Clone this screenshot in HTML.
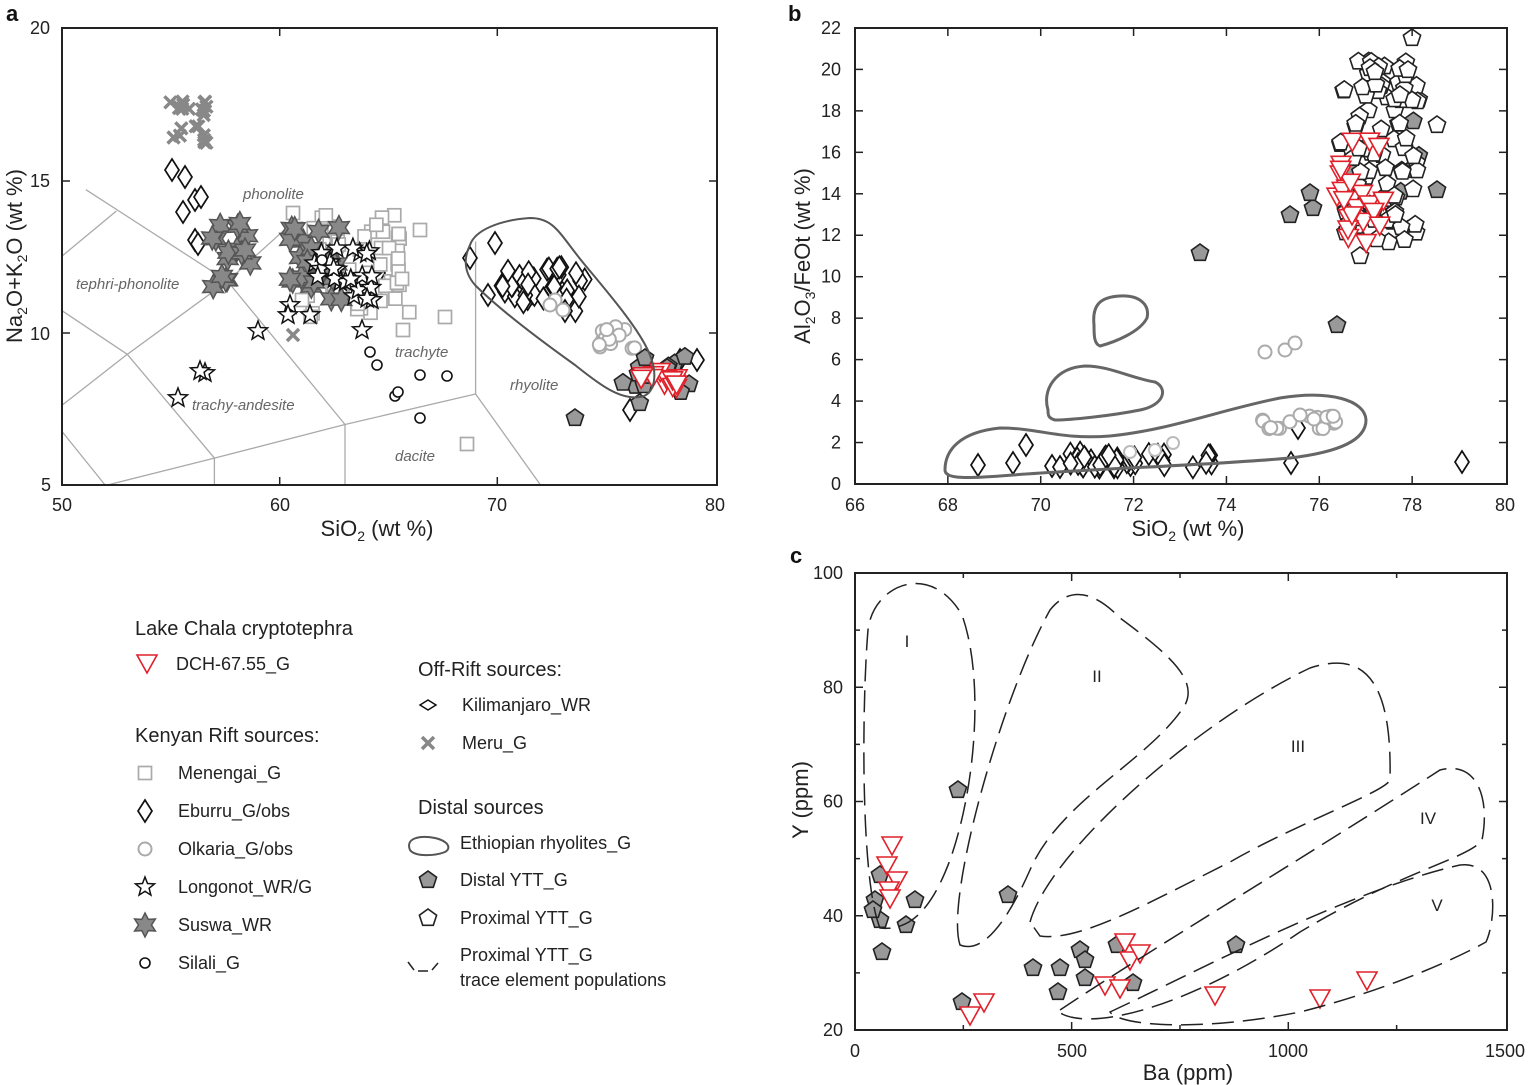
<!DOCTYPE html>
<html><head><meta charset="utf-8"><style>
html,body{margin:0;padding:0;background:#fff;}
svg{display:block;font-family:"Liberation Sans",Arial,sans-serif;}
</style></head><body>
<svg id="s" width="1529" height="1085" viewBox="0 0 1529 1085" xmlns="http://www.w3.org/2000/svg">
<rect width="1529" height="1085" fill="#fff"/>
<g id="tas" stroke="#aaa" stroke-width="1.3" fill="none"></g>
<g id="pts"></g>
<rect x="62" y="28" width="655" height="457" fill="none" stroke="#222" stroke-width="2"/>
<g stroke="#222" stroke-width="1.5">
<line x1="279.7" y1="485" x2="279.7" y2="477"/><line x1="497.3" y1="485" x2="497.3" y2="477"/>
<line x1="279.7" y1="28" x2="279.7" y2="36"/><line x1="497.3" y1="28" x2="497.3" y2="36"/>
<line x1="62" y1="181" x2="70" y2="181"/><line x1="62" y1="333" x2="70" y2="333"/>
<line x1="717" y1="181" x2="709" y2="181"/><line x1="717" y1="333" x2="709" y2="333"/>
</g>
<g font-size="18" fill="#222" text-anchor="middle">
<text x="62" y="511">50</text><text x="280" y="511">60</text><text x="497" y="511">70</text><text x="715" y="511">80</text>
<text x="40" y="34">20</text><text x="40" y="187">15</text><text x="40" y="340">10</text><text x="46" y="491">5</text>
</g>
<text x="377" y="536" font-size="22" text-anchor="middle" fill="#222">SiO<tspan font-size="14" dy="5">2</tspan><tspan dy="-5"> (wt %)</tspan></text>
<text transform="translate(22,256) rotate(-90)" font-size="22" text-anchor="middle" fill="#222">Na<tspan font-size="14" dy="5">2</tspan><tspan dy="-5">O+K</tspan><tspan font-size="14" dy="5">2</tspan><tspan dy="-5">O (wt %)</tspan></text>
<g font-size="15" font-style="italic" fill="#666">
<text x="243" y="199">phonolite</text><text x="76" y="289">tephri-phonolite</text>
<text x="395" y="357">trachyte</text><text x="192" y="410">trachy-andesite</text>
<text x="510" y="390">rhyolite</text><text x="395" y="461">dacite</text>
</g>
<path d="M470,245 C475,230 500,220 530,218 C555,218 560,235 585,265 C610,295 640,330 650,355 C658,375 655,395 640,397 C620,400 600,385 575,365 C540,340 500,310 475,285 C462,270 465,255 470,245 Z" fill="none" stroke="#555" stroke-width="2"/>

<rect x="855" y="28" width="652" height="456" fill="none" stroke="#222" stroke-width="2"/>
<g id="tb" stroke="#222" stroke-width="1.5"></g>
<path d="M945,470 C945,450 960,432 1000,428 C1040,428 1060,440 1110,436 C1170,430 1220,410 1280,398 C1330,390 1365,400 1366,420 C1366,440 1340,452 1290,458 C1200,466 1100,468 1000,476 C960,479 945,478 945,470 Z" fill="none" stroke="#666" stroke-width="3"/>
<path d="M1048,410 C1042,390 1055,368 1085,366 C1110,366 1130,378 1155,382 C1168,388 1165,405 1140,410 C1110,416 1070,420 1055,420 C1048,418 1048,415 1048,410 Z" fill="none" stroke="#666" stroke-width="3"/>
<path d="M1094,325 C1092,305 1100,297 1120,296 C1140,295 1150,305 1147,318 C1140,332 1115,342 1100,346 C1094,344 1094,335 1094,325 Z" fill="none" stroke="#666" stroke-width="3"/>
<g id="tbl" font-size="18" fill="#222"></g>
<text x="1188" y="536" font-size="22" text-anchor="middle" fill="#222">SiO<tspan font-size="14" dy="5">2</tspan><tspan dy="-5"> (wt %)</tspan></text>
<text transform="translate(810,256) rotate(-90)" font-size="22" text-anchor="middle" fill="#222">Al<tspan font-size="14" dy="5">2</tspan><tspan dy="-5">O</tspan><tspan font-size="14" dy="5">3</tspan><tspan dy="-5">/FeOt (wt %)</tspan></text>

<rect x="855" y="573" width="652" height="457" fill="none" stroke="#222" stroke-width="2"/>
<g id="tc" stroke="#222" stroke-width="1.5"></g>
<g fill="none" stroke="#222" stroke-width="1.5" stroke-dasharray="22,9">
<path d="M880,928 C860,880 862,700 868,630 C873,585 930,560 962,615 C985,680 975,790 950,860 C935,900 915,932 880,928 Z"/>
<path d="M960,945 C945,900 1000,700 1050,610 C1070,585 1095,592 1120,618 C1170,655 1198,680 1185,705 C1150,760 1060,800 1030,870 C1010,915 985,955 960,945 Z"/>
<path d="M1030,922 C1050,850 1200,720 1310,668 C1370,648 1392,690 1390,780 C1385,792 1300,822 1230,862 C1150,902 1080,942 1040,936 Z"/>
<path d="M1060,1010 C1150,950 1300,860 1440,770 C1478,760 1490,800 1482,840 C1470,858 1400,872 1300,932 C1200,1000 1100,1032 1062,1014 Z"/>
<path d="M1110,1012 C1200,970 1350,890 1460,865 C1500,860 1496,920 1486,942 C1450,962 1380,992 1300,1012 C1200,1032 1120,1026 1110,1012 Z"/>
</g>
<g font-size="17" fill="#222" text-anchor="middle">
<text x="907" y="647">I</text><text x="1097" y="682">II</text><text x="1298" y="752">III</text><text x="1428" y="824">IV</text><text x="1437" y="911">V</text>
</g>
<text x="1188" y="1080" font-size="22" text-anchor="middle" fill="#222">Ba (ppm)</text>
<text transform="translate(808,800) rotate(-90)" font-size="22" text-anchor="middle" fill="#222">Y (ppm)</text>

<g font-size="22" font-weight="bold" fill="#111">
<text x="6" y="21">a</text><text x="788" y="21">b</text><text x="790" y="563">c</text>
</g>

<g fill="#222">
<text x="135" y="635" font-size="20">Lake Chala cryptotephra</text>
<text x="176" y="670" font-size="18">DCH-67.55_G</text>
<text x="135" y="742" font-size="20">Kenyan Rift sources:</text>
<g font-size="18">
<text x="178" y="779">Menengai_G</text><text x="178" y="817">Eburru_G/obs</text>
<text x="178" y="855">Olkaria_G/obs</text><text x="178" y="893">Longonot_WR/G</text>
<text x="178" y="931">Suswa_WR</text><text x="178" y="969">Silali_G</text>
<text x="462" y="711">Kilimanjaro_WR</text><text x="462" y="749">Meru_G</text>
<text x="460" y="849">Ethiopian rhyolites_G</text><text x="460" y="886">Distal YTT_G</text>
<text x="460" y="924">Proximal YTT_G</text><text x="460" y="961">Proximal YTT_G</text>
<text x="460" y="986">trace element populations</text>
</g>
<text x="418" y="676" font-size="20">Off-Rift sources:</text>
<text x="418" y="814" font-size="20">Distal sources</text>
<path d="M410,850 C405,838 420,835 435,838 C448,841 452,848 445,852 C435,856 415,857 410,850 Z" fill="none" stroke="#555" stroke-width="2"/>
<path d="M408,962 l6,8 M418,971 l10,0 M432,970 l6,-7" stroke="#222" stroke-width="1.5" fill="none"/>
</g>
<g id="leg"></g>
</svg>
<script>
(function(){
var NS="http://www.w3.org/2000/svg";
var pts=document.getElementById('pts');
var seed=12345;function rnd(){seed=(seed*16807)%2147483647;return (seed-1)/2147483646;}
function el(tag,attrs,par){var e=document.createElementNS(NS,tag);for(var k in attrs)e.setAttribute(k,attrs[k]);(par||pts).appendChild(e);return e;}
function poly(pp){return pp.map(function(p){return p[0].toFixed(1)+','+p[1].toFixed(1);}).join(' ');}
function diamond(x,y,par){el('polygon',{points:poly([[x,y-11],[x+7,y],[x,y+11],[x-7,y]]),fill:'#fff',stroke:'#111','stroke-width':1.7},par);}
function legdiam(x,y,par){el('polygon',{points:poly([[x-8,y],[x,y-5],[x+8,y],[x,y+5]]),fill:'#fff',stroke:'#111','stroke-width':1.5},par);}
function cross(x,y,par){var g=el('g',{stroke:'#888','stroke-width':3.5},par);el('line',{x1:x-6,y1:y-6,x2:x+6,y2:y+6},g);el('line',{x1:x-6,y1:y+6,x2:x+6,y2:y-6},g);}
function sq(x,y,par){el('rect',{x:x-6.5,y:y-6.5,width:13,height:13,fill:'#fff',stroke:'#aaa','stroke-width':1.7},par);}
function circ(x,y,par){el('circle',{cx:x,cy:y,r:5,fill:'#fff',stroke:'#111','stroke-width':1.6},par);}
function gcirc(x,y,par){el('circle',{cx:x,cy:y,r:6.5,fill:'#fff',stroke:'#aaa','stroke-width':2},par);}
function star(x,y,par,n,fill,stroke,R,r){var p=[];for(var i=0;i<2*n;i++){var a=-Math.PI/2+i*Math.PI/n;var rr=i%2?r:R;p.push([x+rr*Math.cos(a),y+rr*Math.sin(a)]);}el('polygon',{points:poly(p),fill:fill,stroke:stroke,'stroke-width':1.5},par);}
function lstar(x,y,par){star(x,y,par,5,'#fff','#111',10,4.3);}
function sstar(x,y,par){star(x,y,par,6,'#888','#555',12,6.5);}
function pent(x,y,par,fill){var p=[];for(var i=0;i<5;i++){var a=-Math.PI/2+i*2*Math.PI/5;p.push([x+9*Math.cos(a),y+9*Math.sin(a)]);}el('polygon',{points:poly(p),fill:fill,stroke:'#222','stroke-width':1.6},par);}
function gp(x,y,par){pent(x,y,par,'#999');}
function wp(x,y,par){pent(x,y,par,'#fff');}
function tri(x,y,par){el('polygon',{points:poly([[x-10,y-8],[x+10,y-8],[x,y+10]]),fill:'#fff',stroke:'#e0202a','stroke-width':1.6},par);}
function cluster(f,n,x0,x1,y0,y1){for(var i=0;i<n;i++)f(x0+rnd()*(x1-x0),y0+rnd()*(y1-y0));}
var tas=document.getElementById('tas');
function X(v){return 62+(v-50)*21.77;}function Y(v){return 28+(20-v)*30.5;}
function L(a){el('polyline',{points:poly(a.map(function(p){return [X(p[0]),Y(p[1])];}))},tas);}
L([[52,5],[57,5.9],[63,7],[69,8]]);L([[57,5.9],[57,5]]);L([[63,7],[63,5]]);L([[69,8],[69,13]]);L([[69,8],[72,5]]);
L([[51.1,14.7],[57.6,11.7],[63,7]]);L([[57.6,11.7],[60.4,13.5]]);L([[50,10.73],[53,9.3],[57.6,11.7]]);
L([[53,9.3],[57,5.9]]);L([[50,7.63],[53,9.3]]);L([[50,6.77],[52,5]]);L([[50,12.52],[52.5,14]]);
cluster(cross,22,170,207,100,145);cross(293,335);
[[172,170],[185,177],[195,200],[183,212],[195,240],[198,244],[201,197],[495,243],[470,258],[488,295],[378,273],[680,360],[697,360],[630,410]].forEach(function(p){diamond(p[0],p[1]);});
cluster(diamond,40,500,585,265,312);
cluster(sq,60,305,410,215,320);[[293,213],[420,230],[445,317],[467,444],[403,330],[302,300]].forEach(function(p){sq(p[0],p[1]);});
cluster(sstar,16,212,252,222,290);cluster(sstar,22,288,345,225,300);
[[178,398],[205,373],[200,371],[258,331],[290,305],[288,315],[310,315],[362,330],[372,300]].forEach(function(p){lstar(p[0],p[1]);});
cluster(lstar,22,310,375,245,300);
[[322,260],[370,352],[377,365],[395,396],[398,392],[420,375],[447,376],[420,418]].forEach(function(p){circ(p[0],p[1]);});
[[555,300],[563,310],[550,305]].forEach(function(p){gcirc(p[0],p[1]);});cluster(gcirc,14,598,635,322,352);
cluster(gp,16,622,690,355,405);gp(575,418);gp(645,358);
cluster(tri,14,640,678,370,392);
var tb=document.getElementById('tb'),tbl=document.getElementById('tbl');
function bx(v){return 855+(v-66)*46.43;}function by(v){return 484-v*20.73;}
for(var v=68;v<80;v+=2){el('line',{x1:bx(v),y1:484,x2:bx(v),y2:476},tb);el('line',{x1:bx(v),y1:28,x2:bx(v),y2:36},tb);}
for(var v=66;v<=80;v+=2){var t=el('text',{x:bx(v),y:511,'text-anchor':'middle'},tbl);t.textContent=v;}
for(var v=2;v<22;v+=2){el('line',{x1:855,y1:by(v),x2:863,y2:by(v)},tb);el('line',{x1:1507,y1:by(v),x2:1499,y2:by(v)},tb);}
for(var v=0;v<=22;v+=2){var t=el('text',{x:841,y:by(v)+6,'text-anchor':'end'},tbl);t.textContent=v;}
[[978,465],[1013,463],[1026,445],[1052,466],[1060,467],[1291,463],[1298,428],[1462,462]].forEach(function(p){diamond(p[0],p[1]);});
cluster(diamond,40,1070,1215,452,468);
[[1130,452],[1155,450],[1173,443]].forEach(function(p){el('circle',{cx:p[0],cy:p[1],r:6,fill:'#fff',stroke:'#bbb','stroke-width':2});});
[[1265,352],[1285,350],[1295,343]].forEach(function(p){gcirc(p[0],p[1]);});cluster(gcirc,18,1255,1340,412,430);
[[1290,215],[1313,208],[1200,253],[1337,325],[1310,193],[1437,190],[1352,170],[1410,170]].forEach(function(p){gp(p[0],p[1]);});
cluster(gp,12,1345,1420,110,240);
cluster(wp,90,1340,1420,60,250);[[1412,38],[1437,125],[1370,68],[1375,72],[1408,70],[1400,95],[1360,256]].forEach(function(p){wp(p[0],p[1]);});
cluster(tri,24,1330,1385,140,245);
var tc=document.getElementById('tc');
function cx(v){return 855+v*0.4333;}function cy(v){return 1030-(v-20)*5.7125;}
[500,1000].forEach(function(v){el('line',{x1:cx(v),y1:1030,x2:cx(v),y2:1022},tc);el('line',{x1:cx(v),y1:573,x2:cx(v),y2:581},tc);});
[250,750,1250].forEach(function(v){el('line',{x1:cx(v),y1:1030,x2:cx(v),y2:1025},tc);el('line',{x1:cx(v),y1:573,x2:cx(v),y2:578},tc);});
for(var v=30;v<100;v+=10){var l=v%20==0?8:5;el('line',{x1:855,y1:cy(v),x2:855+l,y2:cy(v)},tc);el('line',{x1:1507,y1:cy(v),x2:1507-l,y2:cy(v)},tc);}
[[0,855],[500,1072],[1000,1288],[1500,1505]].forEach(function(p){var t=el('text',{x:p[1],y:1057,'text-anchor':'middle','font-size':18,fill:'#222'});t.textContent=p[0];});
for(var v=20;v<=100;v+=20){var t=el('text',{x:843,y:cy(v)+6,'text-anchor':'end','font-size':18,fill:'#222'});t.textContent=v;}
[[880,875],[875,900],[880,920],[882,952],[915,900],[906,925],[958,790],[1008,895],[962,1002],[1033,968],[1058,992],[1060,968],[1080,950],[1085,960],[1085,978],[1117,945],[1133,983],[1236,945],[873,910]].forEach(function(p){gp(p[0],p[1]);});
[[892,845],[887,865],[897,880],[889,890],[890,898],[970,1015],[984,1002],[1105,985],[1120,988],[1125,942],[1130,960],[1140,953],[1215,995],[1320,998],[1367,980]].forEach(function(p){tri(p[0],p[1]);});
var lg=document.getElementById('leg');
tri(147,663,lg);sq(145,773,lg);diamond(145,811,lg);gcirc(145,849,lg);lstar(145,887,lg);sstar(145,925,lg);circ(145,963,lg);
legdiam(428,705,lg);cross(428,743,lg);gp(428,880,lg);wp(428,918,lg);
})();
</script>
</body></html>
